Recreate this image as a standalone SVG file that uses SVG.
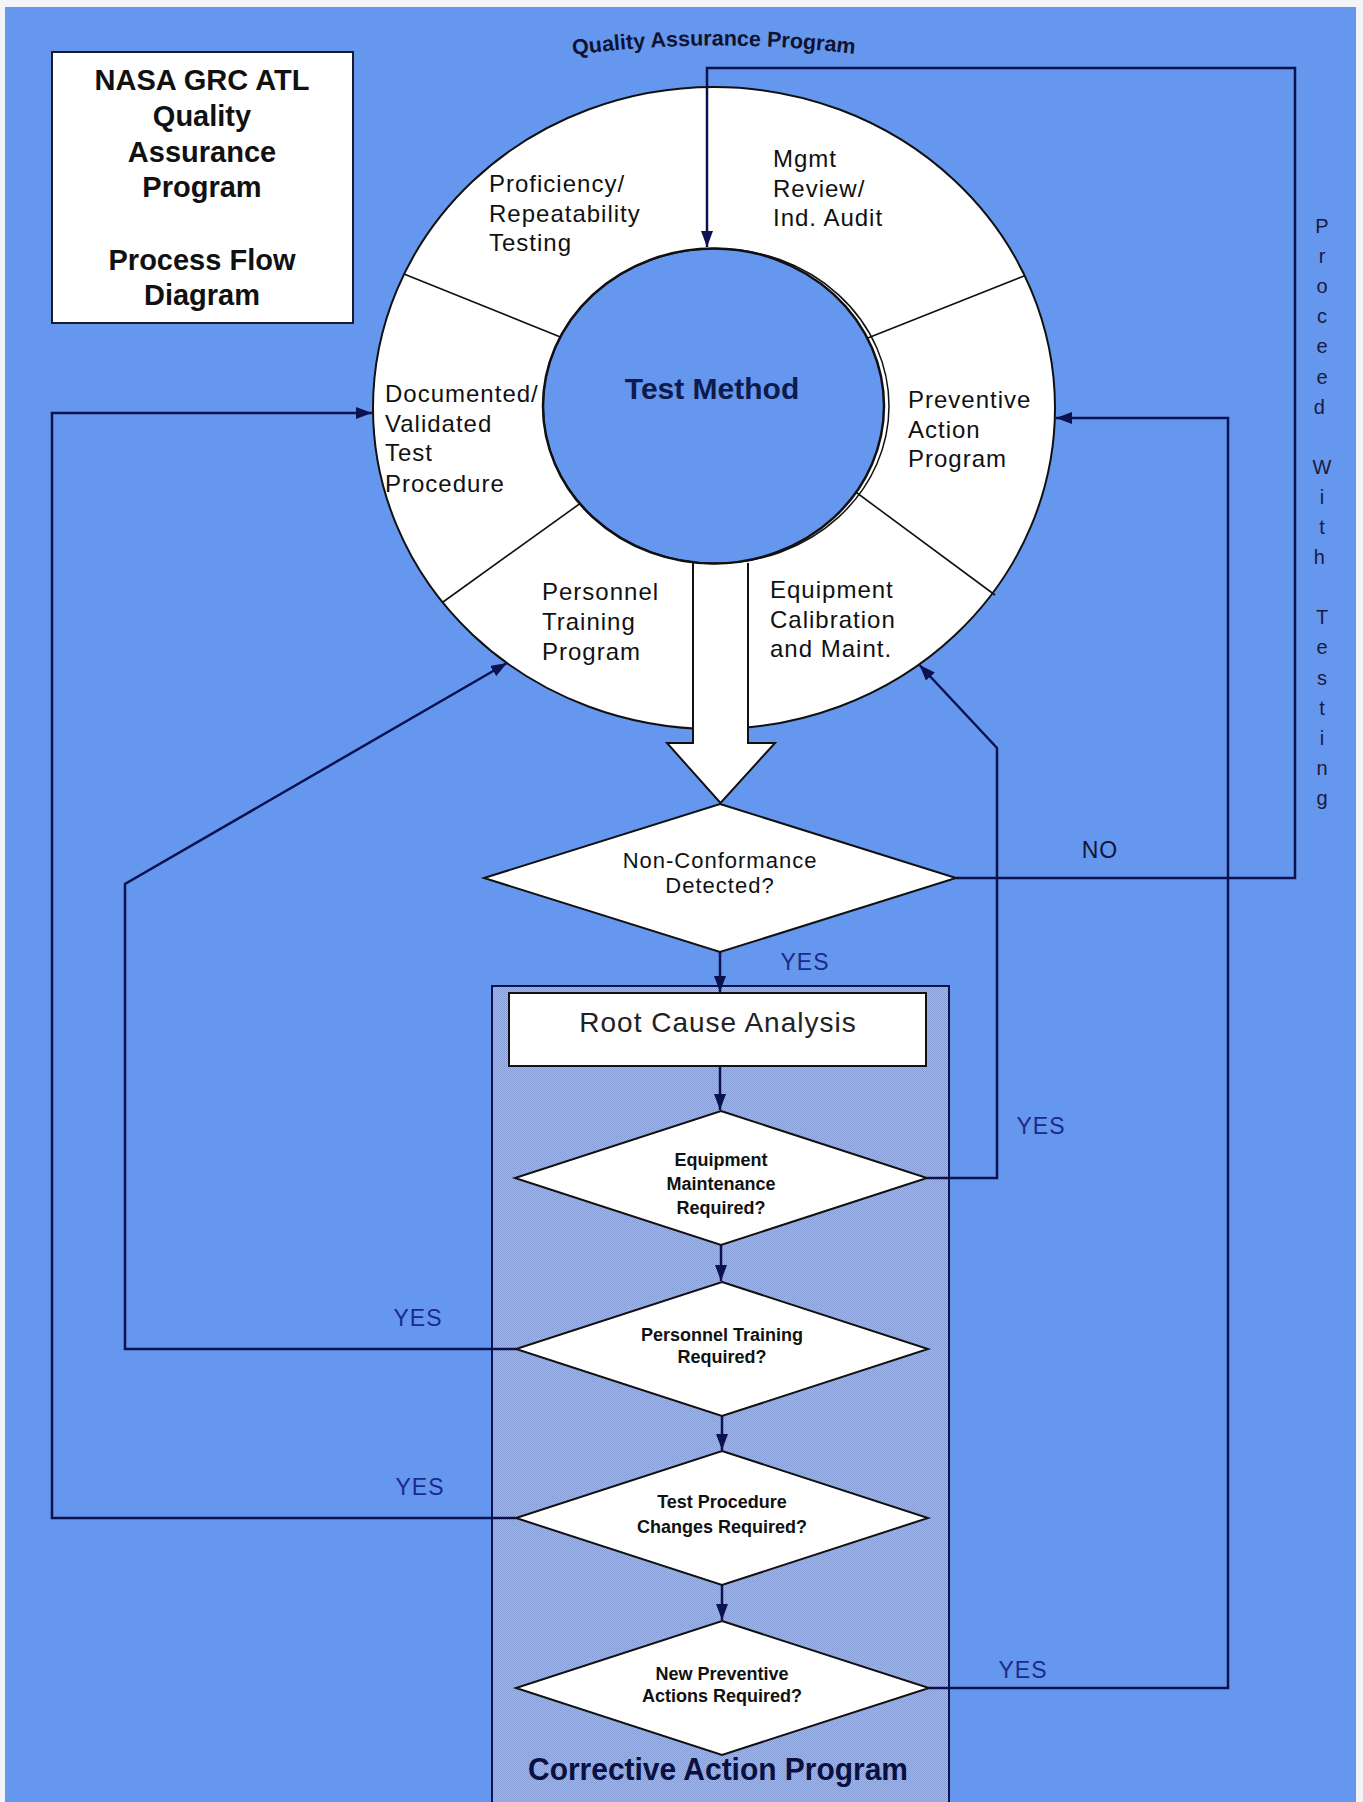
<svg xmlns="http://www.w3.org/2000/svg" width="1363" height="1802" viewBox="0 0 1363 1802">
<style>
.f{font-family:"Liberation Sans",Arial,sans-serif}
.lbl{font-size:24px;letter-spacing:1px;fill:#111}
.title{font-size:29px;font-weight:bold;fill:#111;text-anchor:middle}
.dtxt{font-size:18px;font-weight:bold;fill:#111;text-anchor:middle}
.nc{font-size:22px;letter-spacing:1px;fill:#111;text-anchor:middle}
.yes{font-size:23px;fill:#1c2a8a;text-anchor:middle;letter-spacing:1px}
.vt{font-size:20px;fill:#1a1a40;text-anchor:middle}
.conn{fill:none;stroke:#0c1250;stroke-width:2.5}
.arr{marker-end:url(#ah)}
.shape{fill:#fff;stroke:#111;stroke-width:2}
.spoke{stroke:#111;stroke-width:1.6}
</style>
<defs>
<marker id="ah" viewBox="0 0 16 12" refX="16" refY="6" markerWidth="16" markerHeight="12" markerUnits="userSpaceOnUse" orient="auto">
<path d="M0,0 L16,6 L0,12 z" fill="#0c1250"/>
</marker>
<pattern id="hatch" width="2" height="2" patternUnits="userSpaceOnUse">
<rect width="2" height="2" fill="#a4b7e8"/>
<rect width="1" height="1" fill="#8399d2"/>
<rect x="1" y="1" width="1" height="1" fill="#8a9fd8"/>
</pattern>
<path id="arc" d="M573,55 Q718,36 864,55"/>
</defs>

<rect width="1363" height="1802" fill="#f2f4fa"/>
<rect x="5" y="7" width="1351" height="1795" fill="#6597ee"/>

<g id="title-box">
<rect x="52" y="52" width="301" height="271" fill="#fff" stroke="#1a1a2a" stroke-width="2"/>
<text class="f title" x="202" y="90">NASA GRC ATL</text>
<text class="f title" x="202" y="126">Quality</text>
<text class="f title" x="202" y="162">Assurance</text>
<text class="f title" x="202" y="197">Program</text>
<text class="f title" x="202" y="270">Process Flow</text>
<text class="f title" x="202" y="305">Diagram</text>
</g>

<g id="qa-program-label">
<text class="f" font-size="21.5" font-weight="bold" fill="#10122e"><textPath href="#arc">Quality Assurance Program</textPath></text>
</g>

<g id="corrective-action-program">
<rect x="492" y="986" width="457" height="830" fill="url(#hatch)" stroke="#0c1250" stroke-width="2"/>
<text class="f" x="718" y="1780" font-size="31" font-weight="bold" fill="#0a1040" text-anchor="middle" textLength="380" lengthAdjust="spacingAndGlyphs">Corrective Action Program</text>
</g>

<g id="test-method-ring">
<ellipse cx="714" cy="408" rx="341" ry="321" fill="#fff" stroke="#111" stroke-width="2"/>
<line class="spoke" x1="404" y1="274" x2="600" y2="353"/>
<line class="spoke" x1="1024" y1="276" x2="830" y2="353"/>
<line class="spoke" x1="443" y1="602" x2="610" y2="482"/>
<line class="spoke" x1="995" y1="595" x2="830" y2="473"/>
<g id="seg-proficiency">
<text class="f lbl" x="489" y="192">Proficiency/</text>
<text class="f lbl" x="489" y="222">Repeatability</text>
<text class="f lbl" x="489" y="251">Testing</text>
</g>
<g id="seg-mgmt">
<text class="f lbl" x="773" y="167">Mgmt</text>
<text class="f lbl" x="773" y="197">Review/</text>
<text class="f lbl" x="773" y="226">Ind. Audit</text>
</g>
<g id="seg-documented">
<text class="f lbl" x="385" y="402">Documented/</text>
<text class="f lbl" x="385" y="432">Validated</text>
<text class="f lbl" x="385" y="461">Test</text>
<text class="f lbl" x="385" y="492">Procedure</text>
</g>
<g id="seg-preventive">
<text class="f lbl" x="908" y="408">Preventive</text>
<text class="f lbl" x="908" y="438">Action</text>
<text class="f lbl" x="908" y="467">Program</text>
</g>
<g id="seg-personnel">
<text class="f lbl" x="542" y="600">Personnel</text>
<text class="f lbl" x="542" y="630">Training</text>
<text class="f lbl" x="542" y="660">Program</text>
</g>
<g id="seg-equipment">
<text class="f lbl" x="770" y="598">Equipment</text>
<text class="f lbl" x="770" y="628">Calibration</text>
<text class="f lbl" x="770" y="657">and Maint.</text>
</g>
</g>

<g id="connectors">
<polygon points="693,563 748,563 748,743 775,743 720.5,803 667,743 693,743" fill="#fff"/>
<polyline points="693,563 693,743 667,743 720.5,803 775,743 748,743 748,563" fill="none" stroke="#111" stroke-width="2"/>
<polyline class="conn arr" points="956,878 1295,878 1295,68 707,68 707,247"/>
<line class="conn arr" x1="720" y1="952" x2="720" y2="992"/>
<line class="conn arr" x1="720" y1="1066" x2="720" y2="1110"/>
<line class="conn arr" x1="721" y1="1245" x2="721" y2="1281"/>
<line class="conn arr" x1="722" y1="1416" x2="722" y2="1450"/>
<line class="conn arr" x1="722" y1="1585" x2="722" y2="1620"/>
<polyline class="conn arr" points="927,1178 997,1178 997,748 919.5,665"/>
<polyline class="conn arr" points="516,1349 125,1349 125,884 507,663"/>
<polyline class="conn arr" points="516,1518 52,1518 52,413 372,413"/>
<polyline class="conn arr" points="929,1688 1228,1688 1228,418 1056,418"/>
</g>

<g id="test-method">
<ellipse cx="713.5" cy="406" rx="170.5" ry="157.5" fill="#6597ee" stroke="#111" stroke-width="2.5"/>
<ellipse cx="716" cy="406" rx="173" ry="157.5" fill="none" stroke="#111" stroke-width="1.5"/>
<text class="f" x="712" y="399" font-size="30" font-weight="bold" fill="#0f1a4d" text-anchor="middle">Test Method</text>
</g>

<g id="non-conformance">
<polygon class="shape" points="720,804 956,878 720,952 484,878"/>
<text class="f nc" x="720" y="868">Non-Conformance</text>
<text class="f nc" x="720" y="893">Detected?</text>
</g>

<g id="root-cause">
<rect x="509" y="993" width="417" height="73" class="shape"/>
<text class="f" x="718" y="1032" font-size="28" letter-spacing="1" fill="#222" text-anchor="middle">Root Cause Analysis</text>
</g>

<g id="equipment-maintenance">
<polygon class="shape" points="721,1111 927,1178 721,1245 515,1178"/>
<text class="f dtxt" x="721" y="1166">Equipment</text>
<text class="f dtxt" x="721" y="1190">Maintenance</text>
<text class="f dtxt" x="721" y="1214">Required?</text>
</g>

<g id="personnel-training">
<polygon class="shape" points="722,1282 928,1349 722,1416 516,1349"/>
<text class="f dtxt" x="722" y="1341">Personnel Training</text>
<text class="f dtxt" x="722" y="1363">Required?</text>
</g>

<g id="test-procedure">
<polygon class="shape" points="722,1451 928,1518 722,1585 516,1518"/>
<text class="f dtxt" x="722" y="1508">Test Procedure</text>
<text class="f dtxt" x="722" y="1533">Changes Required?</text>
</g>

<g id="new-preventive">
<polygon class="shape" points="722,1621 929,1688 722,1755 516,1688"/>
<text class="f dtxt" x="722" y="1680">New Preventive</text>
<text class="f dtxt" x="722" y="1702">Actions Required?</text>
</g>

<g id="labels">
<text class="f" x="1100" y="858" font-size="23" fill="#10143a" text-anchor="middle" letter-spacing="1">NO</text>
<text class="f yes" x="805" y="970">YES</text>
<text class="f yes" x="1041" y="1134">YES</text>
<text class="f yes" x="418" y="1326">YES</text>
<text class="f yes" x="420" y="1495">YES</text>
<text class="f yes" x="1023" y="1678">YES</text>
</g>

<g id="proceed-with-testing">
<text class="f vt">
<tspan x="1322" y="233">P</tspan><tspan x="1322" y="263">r</tspan><tspan x="1322" y="293">o</tspan><tspan x="1322" y="323">c</tspan><tspan x="1322" y="353">e</tspan><tspan x="1322" y="384">e</tspan><tspan x="1322" y="414">d</tspan>
<tspan x="1322" y="474">W</tspan><tspan x="1322" y="504">i</tspan><tspan x="1322" y="534">t</tspan><tspan x="1322" y="564">h</tspan>
<tspan x="1322" y="624">T</tspan><tspan x="1322" y="654">e</tspan><tspan x="1322" y="685">s</tspan><tspan x="1322" y="715">t</tspan><tspan x="1322" y="745">i</tspan><tspan x="1322" y="775">n</tspan><tspan x="1322" y="805">g</tspan>
</text>
</g>
</svg>
